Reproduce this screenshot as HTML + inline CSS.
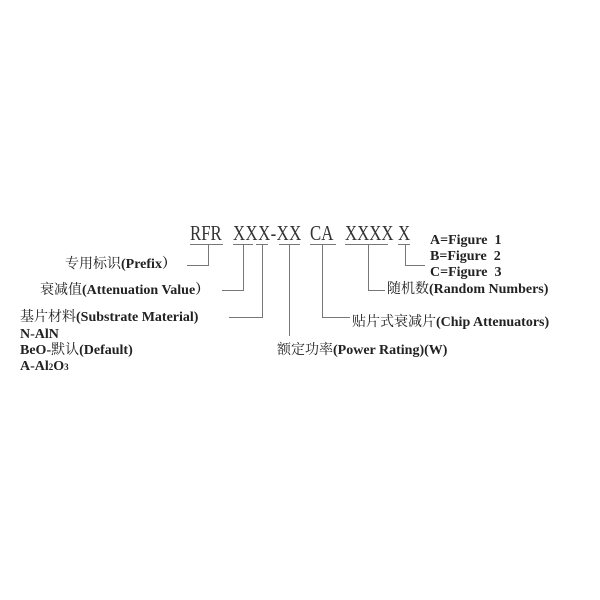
<!DOCTYPE html>
<html><head><meta charset="utf-8"><style>
body{margin:0;width:600px;height:600px;background:#fff;position:relative;overflow:hidden;font-family:"Liberation Serif","Noto Serif CJK SC",serif;color:#222}
.t{position:absolute;font-size:14px;font-weight:bold;white-space:nowrap;line-height:1}
.t .c{font-weight:normal}
.h{position:absolute;top:223px;font-size:21px;line-height:1;transform:scaleX(0.8);transform-origin:left top;white-space:nowrap;color:#333}
.l{position:absolute;background:#777}
</style></head><body>
<div class="h" style="left:190px">RFR</div>
<div class="h" style="left:233px;letter-spacing:0.5px">XXX-XX</div>
<div class="h" style="left:310px">CA</div>
<div class="h" style="left:345px">XXXX</div>
<div class="h" style="left:398px">X</div>
<div class="l" style="left:190px;top:244px;width:33px;height:1px"></div>
<div class="l" style="left:233px;top:244px;width:20px;height:1px"></div>
<div class="l" style="left:256px;top:244px;width:12px;height:1px"></div>
<div class="l" style="left:279px;top:244px;width:21px;height:1px"></div>
<div class="l" style="left:310px;top:244px;width:26px;height:1px"></div>
<div class="l" style="left:345px;top:244px;width:43px;height:1px"></div>
<div class="l" style="left:398px;top:244px;width:12px;height:1px"></div>
<div class="l" style="left:208px;top:244px;width:1px;height:22px"></div>
<div class="l" style="left:187px;top:265px;width:22px;height:1px"></div>
<div class="l" style="left:243px;top:244px;width:1px;height:47px"></div>
<div class="l" style="left:222px;top:290px;width:22px;height:1px"></div>
<div class="l" style="left:262px;top:244px;width:1px;height:74px"></div>
<div class="l" style="left:229px;top:317px;width:34px;height:1px"></div>
<div class="l" style="left:289px;top:244px;width:1px;height:92px"></div>
<div class="l" style="left:322px;top:244px;width:1px;height:74px"></div>
<div class="l" style="left:322px;top:317px;width:28px;height:1px"></div>
<div class="l" style="left:368px;top:244px;width:1px;height:47px"></div>
<div class="l" style="left:368px;top:290px;width:17px;height:1px"></div>
<div class="l" style="left:405px;top:244px;width:1px;height:22px"></div>
<div class="l" style="left:405px;top:265px;width:20px;height:1px"></div>
<div class="t" style="left:65px;top:258px"><span class="c">专用标识</span>(Prefix）</div>
<div class="t" style="left:40px;top:284px"><span class="c">衰减值</span>(Attenuation Value）</div>
<div class="t" style="left:20px;top:311px"><span class="c">基片材料</span>(Substrate Material)</div>
<div class="t" style="left:20px;top:328px">N-AlN</div>
<div class="t" style="left:20px;top:344px">BeO-<span class="c">默认</span>(Default)</div>
<div class="t" style="left:20px;top:360px">A-Al<span style="font-size:9px">2</span>O<span style="font-size:9px">3</span></div>
<div class="t" style="left:430px;top:234px">A=Figure&nbsp; 1</div>
<div class="t" style="left:430px;top:250px">B=Figure&nbsp; 2</div>
<div class="t" style="left:430px;top:266px">C=Figure&nbsp; 3</div>
<div class="t" style="left:387px;top:283px"><span class="c">随机数</span>(Random Numbers)</div>
<div class="t" style="left:352px;top:316px"><span class="c">贴片式衰减片</span>(Chip Attenuators)</div>
<div class="t" style="left:277px;top:344px"><span class="c">额定功率</span>(Power Rating)(W)</div>
</body></html>
